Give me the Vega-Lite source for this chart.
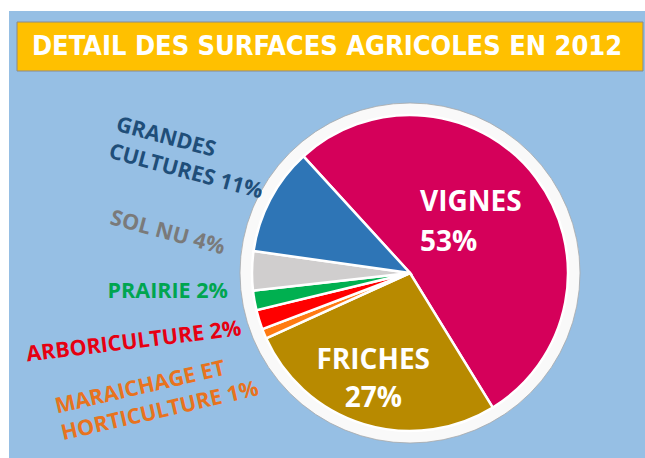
{
  "$schema": "https://vega.github.io/schema/vega-lite/v6.json",
  "background": "white",
  "padding": {"left": 9, "top": 11, "right": 0, "bottom": 0},
  "spacing": 0,
  "bounds": "flush",
  "config": {"view": {"stroke": null, "fill": "#96BFE4"}},
  "vconcat": [
    {
      "width": 636,
      "height": 77,
      "view": {"stroke": null, "fill": "#96BFE4"},
      "data": {"values": [{"titre": "DETAIL DES SURFACES AGRICOLES EN 2012"}]},
      "encoding": {
        "x": {"field": "titre", "type": "nominal", "axis": null, "scale": {"paddingInner": 0, "paddingOuter": 0.008, "align": 0.8}},
        "y": {"field": "titre", "type": "nominal", "axis": null, "scale": {"paddingInner": 0, "paddingOuter": 0.2857, "align": 0.393}}
      },
      "layer": [
        {"mark": {"type": "rect", "fill": "#FFC000", "stroke": "#8A8A8A", "strokeWidth": 1}},
        {"mark": {"type": "text", "font": "DejaVu Sans Condensed", "fontWeight": "bold", "fontSize": 27, "color": "white", "dx": -3, "baseline": "middle"}, "encoding": {"text": {"field": "titre"}}}
      ]
    },
    {
      "hconcat": [
        {
          "width": 166,
          "height": 370,
          "view": {"stroke": null, "fill": "#96BFE4"},
          "data": {"values": [{}]},
          "mark": {"type": "point", "opacity": 0},
          "encoding": {}
        },
        {
          "width": 470,
          "height": 370,
          "view": {"stroke": null, "fill": "#96BFE4"},
          "data": {"values": [
            {"nom": "VIGNES", "pct": 53},
            {"nom": "FRICHES", "pct": 27},
            {"nom": "MARAICHAGE ET HORTICULTURE", "pct": 1},
            {"nom": "ARBORICULTURE", "pct": 2},
            {"nom": "PRAIRIE", "pct": 2},
            {"nom": "SOL NU", "pct": 4},
            {"nom": "GRANDES CULTURES", "pct": 11}
          ]},
          "transform": [
            {"window": [{"op": "row_number", "as": "rang"}]},
            {"calculate": "datum.nom + ' ' + datum.pct + '%'", "as": "lib"},
            {"calculate": "replace(datum.lib, ' ', '\\n')", "as": "lib1"},
            {"calculate": "replace(datum.lib, ' HORTICULTURE', '\\nHORTICULTURE')", "as": "lib2"}
          ],
          "layer": [
            {
              "data": {"values": [{}]},
              "mark": {"type": "arc", "theta": 0, "theta2": 6.2832, "outerRadius": 170, "fill": "#F9F9F9", "stroke": "#A8A8A8", "strokeWidth": 0.8},
              "encoding": {}
            },
            {
              "mark": {"type": "arc", "outerRadius": 158, "stroke": "white", "strokeWidth": 2.5},
              "encoding": {
                "theta": {"field": "pct", "type": "quantitative", "stack": true, "scale": {"range": [-0.74, 5.5432]}},
                "order": {"field": "rang", "type": "quantitative"},
                "color": {"field": "nom", "type": "nominal", "legend": null,
                  "scale": {
                    "domain": ["VIGNES", "FRICHES", "MARAICHAGE ET HORTICULTURE", "ARBORICULTURE", "PRAIRIE", "SOL NU", "GRANDES CULTURES"],
                    "range": ["#D5005A", "#B88A00", "#FF7A12", "#FF0000", "#00B050", "#D0CECE", "#2E75B6"]
                  }}
              }
            },
            {
              "mark": {"type": "text", "radius": 40, "dx": -22, "dy": -46, "align": "left", "baseline": "middle", "font": "Open Sans", "fontWeight": "bold", "fontSize": 28, "lineHeight": 40, "lineBreak": "\n", "color": "white"},
              "encoding": {
                "theta": {"field": "pct", "type": "quantitative", "stack": true},
                "order": {"field": "rang", "type": "quantitative"},
                "detail": {"field": "nom", "type": "nominal"},
                "text": {"condition": {"test": "datum.nom === 'VIGNES'", "field": "lib1"}, "value": ""}
              }
            },
            {
              "mark": {"type": "text", "radius": 112, "dx": -4, "dy": -19, "align": "center", "baseline": "middle", "font": "Open Sans", "fontWeight": "bold", "fontSize": 28, "lineHeight": 38, "lineBreak": "\n", "color": "white"},
              "encoding": {
                "theta": {"field": "pct", "type": "quantitative", "stack": true},
                "order": {"field": "rang", "type": "quantitative"},
                "detail": {"field": "nom", "type": "nominal"},
                "text": {"condition": {"test": "datum.nom === 'FRICHES'", "field": "lib1"}, "value": ""}
              }
            },
            {
              "mark": {"type": "text", "radius": 326, "dx": -4, "dy": 5, "angle": 15, "align": "left", "baseline": "middle", "font": "Open Sans", "fontWeight": "bold", "fontSize": 21.5, "lineHeight": 28, "lineBreak": "\n", "color": "#1F4E79"},
              "encoding": {
                "theta": {"field": "pct", "type": "quantitative", "stack": true},
                "order": {"field": "rang", "type": "quantitative"},
                "detail": {"field": "nom", "type": "nominal"},
                "text": {"condition": {"test": "datum.nom === 'GRANDES CULTURES'", "field": "lib1"}, "value": ""}
              }
            },
            {
              "mark": {"type": "text", "radius": 243, "dx": -9, "dy": -35, "angle": 15, "align": "center", "baseline": "middle", "font": "Open Sans", "fontWeight": "bold", "fontSize": 21.5, "color": "#7A7A7A"},
              "encoding": {
                "theta": {"field": "pct", "type": "quantitative", "stack": true},
                "order": {"field": "rang", "type": "quantitative"},
                "detail": {"field": "nom", "type": "nominal"},
                "text": {"condition": {"test": "datum.nom === 'SOL NU'", "field": "lib"}, "value": ""}
              }
            },
            {
              "mark": {"type": "text", "radius": 246, "dx": 0, "dy": -24, "align": "center", "baseline": "middle", "font": "Open Sans", "fontWeight": "bold", "fontSize": 21.5, "color": "#00A550"},
              "encoding": {
                "theta": {"field": "pct", "type": "quantitative", "stack": true},
                "order": {"field": "rang", "type": "quantitative"},
                "detail": {"field": "nom", "type": "nominal"},
                "text": {"condition": {"test": "datum.nom === 'PRAIRIE'", "field": "lib"}, "value": ""}
              }
            },
            {
              "mark": {"type": "text", "radius": 284, "dx": -3, "dy": -15, "angle": -7, "align": "center", "baseline": "middle", "font": "Open Sans", "fontWeight": "bold", "fontSize": 21.5, "color": "#E60012"},
              "encoding": {
                "theta": {"field": "pct", "type": "quantitative", "stack": true},
                "order": {"field": "rang", "type": "quantitative"},
                "detail": {"field": "nom", "type": "nominal"},
                "text": {"condition": {"test": "datum.nom === 'ARBORICULTURE'", "field": "lib"}, "value": ""}
              }
            },
            {
              "mark": {"type": "text", "radius": 381, "dx": 0, "dy": -12, "angle": -13, "align": "left", "baseline": "middle", "font": "Open Sans", "fontWeight": "bold", "fontSize": 21.5, "lineHeight": 27.5, "lineBreak": "\n", "color": "#E8731E"},
              "encoding": {
                "theta": {"field": "pct", "type": "quantitative", "stack": true},
                "order": {"field": "rang", "type": "quantitative"},
                "detail": {"field": "nom", "type": "nominal"},
                "text": {"condition": {"test": "datum.nom === 'MARAICHAGE ET HORTICULTURE'", "field": "lib2"}, "value": ""}
              }
            }
          ]
        }
      ],
      "spacing": 0,
      "bounds": "flush"
    }
  ]
}
